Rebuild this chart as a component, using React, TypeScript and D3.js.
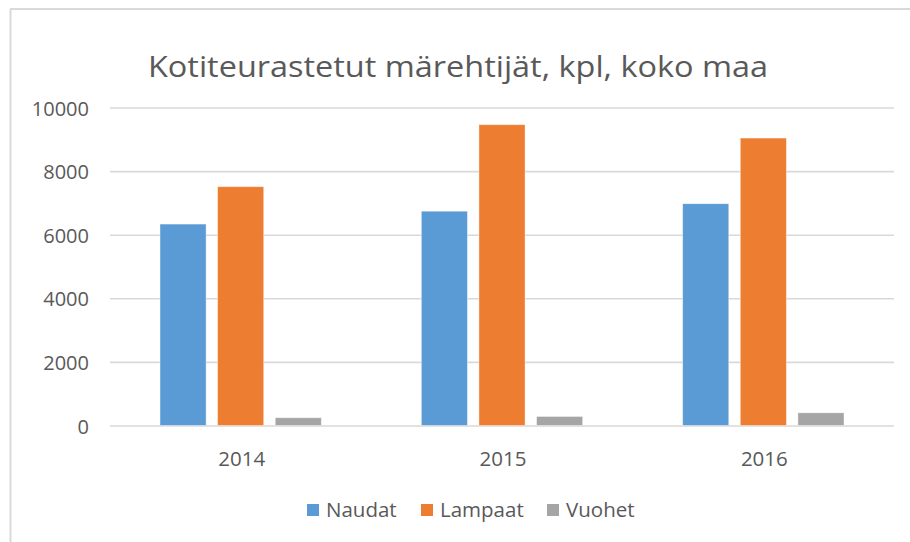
import React from "react";
import * as d3 from "d3";

const categories = ["2014", "2015", "2016"];
const seriesNames = ["Naudat", "Lampaat", "Vuohet"];
const naudat = [6350, 6755, 6990];
const lampaat = [7525, 9475, 9055];
const vuohet = [260, 300, 415];
const yTicks = [0, 2000, 4000, 6000, 8000, 10000];
const colors = ["#5B9BD5", "#ED7D31", "#A5A5A5"];
const title = "Kotiteurastetut märehtijät, kpl, koko maa";

const W = 910;
const H = 542;
const FONT = "'Open Sans', 'DejaVu Sans', sans-serif";
const TEXT = "#595959";
const GRID = "#D9D9D9";

export default function App() {
  const seriesValues = [naudat, lampaat, vuohet];
  const plotL = 110;
  const plotR = 894;
  const y = d3.scaleLinear().domain([0, 10000]).range([426, 108]);
  const x0 = d3.scaleBand<string>().domain(categories).range([plotL, plotR]).padding(0);
  const bw = x0.bandwidth();
  const gOff = 50;
  const x1 = d3
    .scaleBand<string>()
    .domain(seriesNames)
    .range([gOff, bw - gOff])
    .paddingInner(0.2)
    .paddingOuter(0);

  const legendX = [307, 421, 547];

  return (
    <svg
      width={W}
      height={H}
      style={{ position: "absolute", left: 0, top: 0, background: "#fff" }}
      fontFamily={FONT}
    >
      <rect x={0} y={0} width={W} height={H} fill="#fff" />
      <line x1={10} x2={W} y1={9} y2={9} stroke={GRID} strokeWidth={2} />
      <line x1={10.5} x2={10.5} y1={9} y2={H} stroke={GRID} strokeWidth={2} />

      <text
        x={(148 + 768) / 2}
        y={77}
        textAnchor="middle"
        fontSize={30}
        fill={TEXT}
        textLength={620}
        lengthAdjust="spacingAndGlyphs"
      >
        {title}
      </text>

      {yTicks.map((t) => (
        <g key={t}>
          <line x1={plotL} x2={plotR} y1={y(t)} y2={y(t)} stroke={GRID} strokeWidth={1.6} />
          <text x={89} y={y(t) + 7.5} textAnchor="end" fontSize={20} fill={TEXT}>
            {t}
          </text>
        </g>
      ))}

      {categories.map((c, ci) => (
        <g key={c} transform={`translate(${x0(c)},0)`}>
          {seriesNames.map((s, si) => {
            const v = seriesValues[si][ci];
            return (
              <rect
                key={s}
                x={x1(s)}
                y={y(v)}
                width={x1.bandwidth()}
                height={y(0) - y(v) - 0.5}
                fill={colors[si]}
                stroke="#fff"
                strokeOpacity={0.5}
                strokeWidth={0.8}
              />
            );
          })}
          <text x={bw / 2 + 1} y={466} textAnchor="middle" fontSize={20.5} fill={TEXT}>
            {c}
          </text>
        </g>
      ))}

      {seriesNames.map((s, i) => (
        <g key={s}>
          <rect x={legendX[i]} y={504} width={12} height={12} fill={colors[i]} />
          <text x={legendX[i] + 19} y={517} fontSize={20.5} fill={TEXT}>
            {s}
          </text>
        </g>
      ))}
    </svg>
  );
}
